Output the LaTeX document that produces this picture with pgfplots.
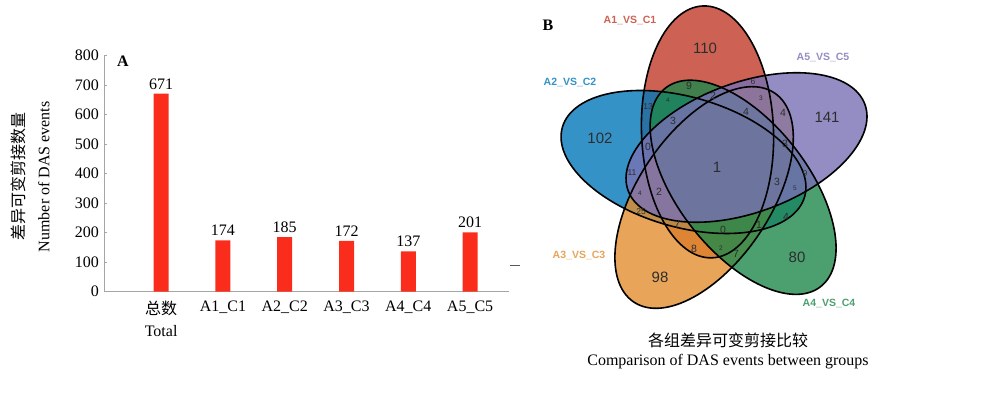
\documentclass[border=0pt]{standalone}
\usepackage{fontspec}
\setmainfont{Liberation Serif}
\newfontfamily\cjk{Noto Sans CJK SC}
\newfontfamily\arial{Liberation Sans}
\usepackage{pgfplots}
\pgfplotsset{compat=1.18}
\definecolor{barred}{RGB}{250,45,28}
\definecolor{axgray}{RGB}{165,165,165}
\definecolor{vred}{RGB}{192,59,41}
\definecolor{vblue}{RGB}{3,119,185}
\definecolor{vorange}{RGB}{226,141,46}
\definecolor{vgreen}{RGB}{31,136,76}
\definecolor{vpurple}{RGB}{121,113,181}
\definecolor{lred}{RGB}{205,98,84}
\definecolor{lblue}{RGB}{53,146,199}
\definecolor{lorange}{RGB}{232,164,88}
\definecolor{lgreen}{RGB}{76,160,112}
\definecolor{lpurple}{RGB}{148,141,196}
\definecolor{numgray}{RGB}{45,45,45}
\pgfplotstableread{
x y
0 671
1 174
2 185
3 172
4 137
5 201
}\dastable
\begin{document}
\begin{tikzpicture}
\path[use as bounding box] (0,0) rectangle (1000pt,395pt);
% ---------------- Panel A ----------------
\begin{axis}[
  at={(104.3pt,103.3pt)}, anchor=south west,
  scale only axis, width=404.7pt, height=236pt,
  ymin=0, ymax=800, xmin=-0.92, xmax=5.63,
  axis x line*=bottom, axis y line*=left,
  axis line style={axgray, line width=1.2pt},
  ytick={0,100,...,800}, xtick={0,1,2,3,4,5},
  xticklabels={{{\cjk 总数}\\Total},A1\_C1,A2\_C2,A3\_C3,A4\_C4,A5\_C5},
  x tick style={draw=none},
  y tick style={axgray, line width=0.8pt},
  tick align=inside, major tick length=3pt,
  tick label style={font=\fontsize{16}{21.7}\selectfont},
  xticklabel style={align=center, yshift=-3pt},
  yticklabel style={xshift=-2pt},
  /pgf/number format/assume math mode=true,
  ybar, bar width=15pt,
  nodes near coords,
  nodes near coords style={font=\fontsize{16}{19}\selectfont, text=black, yshift=1pt},
  clip=false,
  ylabel={{\cjk 差异可变剪接数量}\\Number of DAS events},
  ylabel style={align=center, font=\fontsize{16}{25}\selectfont,
    at={(rel axis cs:-0.183,0.487)}, anchor=center},
]
\addplot[fill=barred, draw=none] table[x=x,y=y] {\dastable};
\node[font=\bfseries\fontsize{16}{19}\selectfont] at (rel axis cs:0.046,0.975) {A};
\draw[gray!70!black, line width=0.9pt] (axis cs:5.64,88) -- (axis cs:5.81,88);
\end{axis}
% ---------------- Panel B ----------------
\begin{axis}[
  at={(530pt,0pt)}, anchor=south west,
  x=1pt, y=1pt, xmin=530, xmax=910, ymin=0, ymax=395,
  hide axis, clip=false,
]
% fills
\fill[vred, fill opacity=0.8, rotate around={92:(axis cs:707.5,263.1)}] (axis cs:707.5,263.1) ellipse [x radius=126pt, y radius=66pt];
\fill[vblue, fill opacity=0.8, rotate around={164:(axis cs:683.5,233)}] (axis cs:683.5,233) ellipse [x radius=126pt, y radius=65pt];
\fill[vorange, fill opacity=0.8, rotate around={236:(axis cs:704.1,197.5)}] (axis cs:704.1,197.5) ellipse [x radius=126pt, y radius=66pt];
\fill[vgreen, fill opacity=0.8, rotate around={308:(axis cs:743.1,207.7)}] (axis cs:743.1,207.7) ellipse [x radius=126pt, y radius=65pt];
\fill[vpurple, fill opacity=0.8, rotate around={20:(axis cs:746.5,247.5)}] (axis cs:746.5,247.5) ellipse [x radius=126pt, y radius=65pt];
% outlines
\draw[black, line width=1.6pt, rotate around={92:(axis cs:707.5,263.1)}] (axis cs:707.5,263.1) ellipse [x radius=126pt, y radius=66pt];
\draw[black, line width=1.6pt, rotate around={164:(axis cs:683.5,233)}] (axis cs:683.5,233) ellipse [x radius=126pt, y radius=65pt];
\draw[black, line width=1.6pt, rotate around={236:(axis cs:704.1,197.5)}] (axis cs:704.1,197.5) ellipse [x radius=126pt, y radius=66pt];
\draw[black, line width=1.6pt, rotate around={308:(axis cs:743.1,207.7)}] (axis cs:743.1,207.7) ellipse [x radius=126pt, y radius=65pt];
\draw[black, line width=1.6pt, rotate around={20:(axis cs:746.5,247.5)}] (axis cs:746.5,247.5) ellipse [x radius=126pt, y radius=65pt];
% large numbers
\begin{scope}[every node/.style={font=\arial\fontsize{15}{18}\selectfont, text=numgray, inner sep=0pt}]
\node at (axis cs:705,347) {110};
\node at (axis cs:600,257) {102};
\node at (axis cs:827,278) {141};
\node at (axis cs:660,118) {98};
\node at (axis cs:797,138) {80};
\node at (axis cs:717,228) {1};
\end{scope}
\begin{scope}[every node/.style={font=\arial\fontsize{10.5}{12}\selectfont, text=numgray, inner sep=0pt}]
\node at (axis cs:689,309) {9};
\node at (axis cs:713,299) {2};
\node at (axis cs:746,283) {4};
\node at (axis cs:783,282) {4};
\node at (axis cs:673,274) {3};
\node at (axis cs:648,248) {0};
\node at (axis cs:785,251) {3};
\node at (axis cs:777,213) {3};
\node at (axis cs:659,203) {2};
\node at (axis cs:677,170) {7};
\node at (axis cs:723,165) {0};
\node at (axis cs:759,170) {1};
\node at (axis cs:786,178) {4};
\node at (axis cs:694,146) {8};
\node at (axis cs:736,141) {7};
\end{scope}
\begin{scope}[every node/.style={font=\arial\fontsize{8.5}{10}\selectfont, text=numgray, inner sep=0pt}]
\node at (axis cs:753,313) {6};
\node at (axis cs:648,288) {13};
\node at (axis cs:632,222) {11};
\node at (axis cs:805,221) {9};
\node at (axis cs:641,183) {25};
\end{scope}
\begin{scope}[every node/.style={font=\arial\fontsize{6.5}{8}\selectfont, text=numgray, inner sep=0pt}]
\node at (axis cs:761,297) {3};
\node at (axis cs:668,295) {4};
\node at (axis cs:795,207) {5};
\node at (axis cs:640,202) {4};
\node at (axis cs:721,147) {2};
\end{scope}
% set labels
\begin{scope}[every node/.style={font=\arial\bfseries\fontsize{10.5}{12}\selectfont, inner sep=0pt}]
\node[text=lred] at (axis cs:630,375) {A1\_VS\_C1};
\node[text=lblue] at (axis cs:570,313) {A2\_VS\_C2};
\node[text=lpurple] at (axis cs:823,338) {A5\_VS\_C5};
\node[text=lorange] at (axis cs:579,140) {A3\_VS\_C3};
\node[text=lgreen] at (axis cs:829,92) {A4\_VS\_C4};
\end{scope}
\node[font=\bfseries\fontsize{16}{19}\selectfont, inner sep=0pt] at (axis cs:548,370) {B};
\node[font=\cjk\fontsize{16}{19}\selectfont, inner sep=0pt] at (axis cs:728,55) {各组差异可变剪接比较};
\node[font=\fontsize{16}{19}\selectfont, inner sep=0pt] at (axis cs:728,33) {Comparison of DAS events between groups};
\end{axis}
\end{tikzpicture}
\end{document}
